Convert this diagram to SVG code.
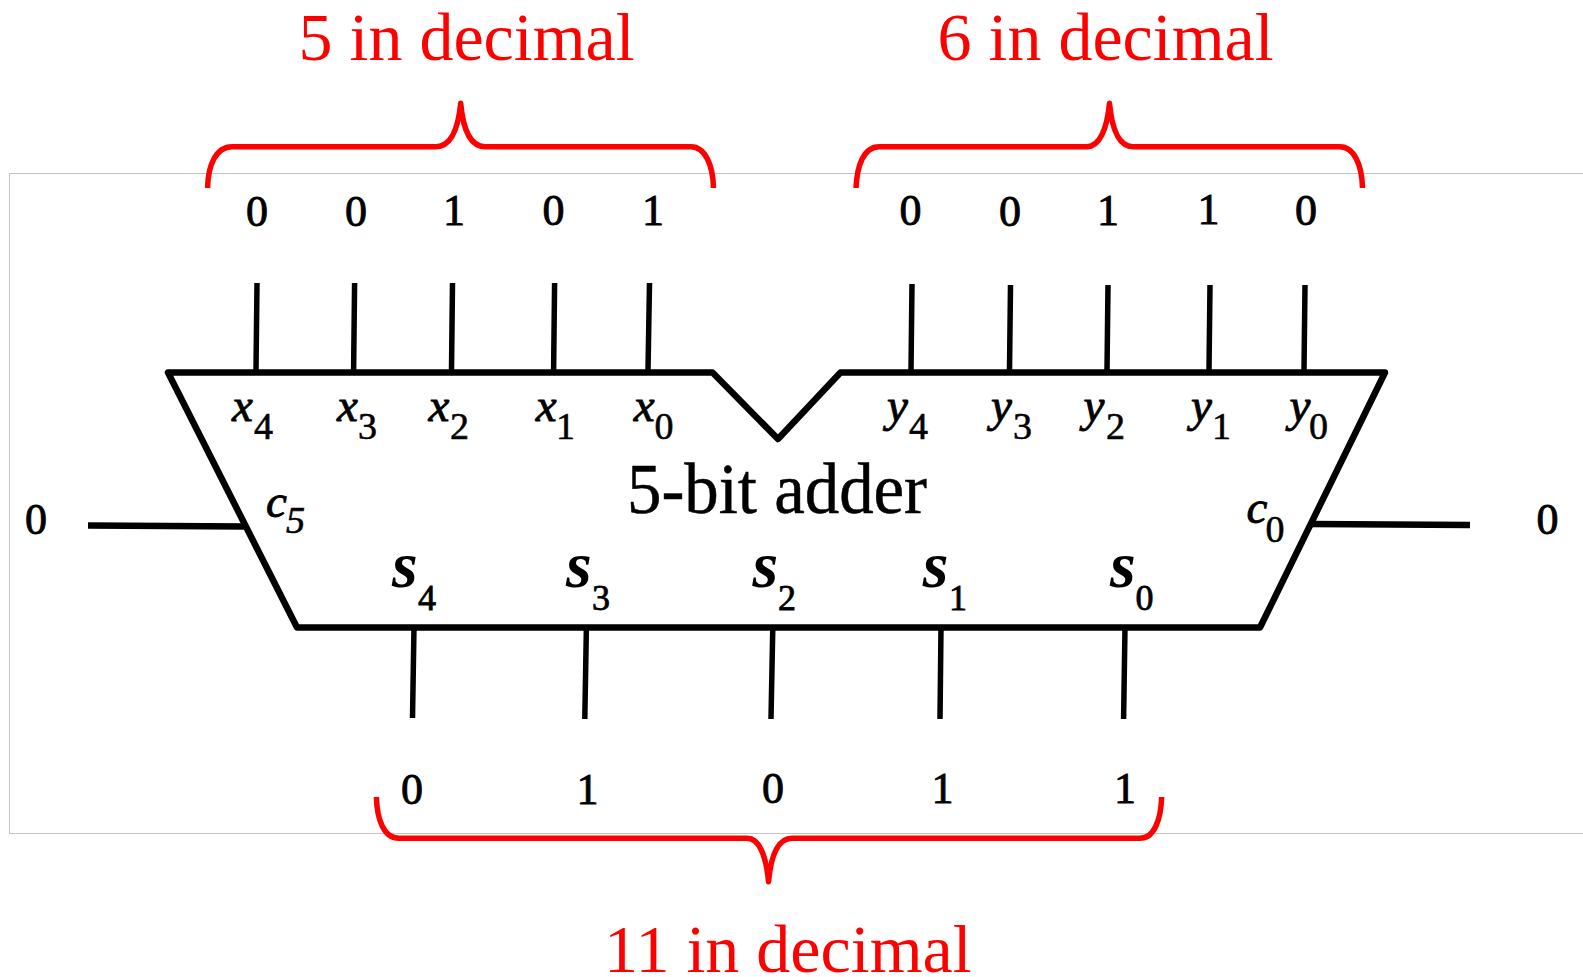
<svg xmlns="http://www.w3.org/2000/svg" width="1583" height="977" viewBox="0 0 1583 977">
<style>
text{font-family:"Liberation Serif","Times New Roman",serif;fill:#000}
.bit{font-size:44px;text-anchor:middle;stroke:#000;stroke-width:.9px}
.title{font-size:68px;fill:#f00}
.brace{fill:none;stroke:#f00;stroke-width:5.5px;stroke-linejoin:round}
.wire{stroke:#000;stroke-width:5.5px;fill:none}
.stub{stroke:#000;stroke-width:6.5px;fill:none}
.body{stroke:#000;stroke-width:6.5px;fill:none;stroke-linejoin:round}
.v{font-size:47px;font-style:italic;stroke:#000;stroke-width:.9px}
.sub{font-size:38px;font-style:normal;stroke:#000;stroke-width:.6px}
.s{font-size:66px;font-style:italic;font-weight:bold}
.ssub{font-size:36px;font-style:normal;font-weight:normal;stroke:#000;stroke-width:.8px}
</style>
<rect x="9.5" y="173.5" width="1600" height="660" fill="#fff" stroke="#c4c4c4" stroke-width="1"/>
<g id="connectors">
<path class="wire" d="M257 283L256 370M354.6 283L353.6 370M452.5 283L451.5 370M554.6 283L553.6 370M649.5 283L648 370"/>
<path class="wire" d="M912 284L911 370M1010.5 285L1009.5 370M1108 285L1107 370M1210 285L1209 370M1305 285L1304 370"/>
<path class="wire" d="M414 627L412.5 718M586.4 627L584.8 719M772.8 627L771 719M941 627L940 719M1125 627L1123.6 719"/>
<path class="stub" d="M88 525.5L245 526.5M1311 524L1470 525"/>
</g>
<g id="adder">
<path class="body" d="M168 372.5H712.5L778 439L840.5 372.5H1385L1260 627.5H297Z"/>
<text x="627" y="513" font-size="71" textLength="300" lengthAdjust="spacingAndGlyphs" stroke="#000" stroke-width=".5">5-bit adder</text>
</g>
<g id="x-inputs">
<text class="v" y="421"><tspan x="232">x</tspan><tspan class="sub" x="254" y="438.5">4</tspan></text>
<text class="v" y="421"><tspan x="337">x</tspan><tspan class="sub" x="358" y="438.5">3</tspan></text>
<text class="v" y="421"><tspan x="428.6">x</tspan><tspan class="sub" x="450" y="438.5">2</tspan></text>
<text class="v" y="421"><tspan x="535.7">x</tspan><tspan class="sub" x="556" y="438.5">1</tspan></text>
<text class="v" y="421"><tspan x="633.7">x</tspan><tspan class="sub" x="654.5" y="438.5">0</tspan></text>
</g>
<g id="y-inputs">
<text class="v" y="421"><tspan x="887">y</tspan><tspan class="sub" x="909" y="438.5">4</tspan></text>
<text class="v" y="421"><tspan x="991">y</tspan><tspan class="sub" x="1013" y="438.5">3</tspan></text>
<text class="v" y="421"><tspan x="1083.5">y</tspan><tspan class="sub" x="1106" y="438.5">2</tspan></text>
<text class="v" y="421"><tspan x="1191">y</tspan><tspan class="sub" x="1212" y="438.5">1</tspan></text>
<text class="v" y="421"><tspan x="1289.5">y</tspan><tspan class="sub" x="1309" y="438.5">0</tspan></text>
</g>
<g id="carries">
<text class="v" x="266" y="517">c<tspan class="sub" style="font-style:italic" x="286" y="533">5</tspan></text>
<text class="v" x="1246.5" y="523">c<tspan class="sub" x="1265.5" y="542">0</tspan></text>
</g>
<g id="sum-outputs">
<text class="s" y="587"><tspan x="392">s</tspan><tspan class="ssub" x="418" y="609.5">4</tspan></text>
<text class="s" y="587"><tspan x="566">s</tspan><tspan class="ssub" x="592" y="609.5">3</tspan></text>
<text class="s" y="587"><tspan x="752.4">s</tspan><tspan class="ssub" x="778" y="609.5">2</tspan></text>
<text class="s" y="587"><tspan x="922.8">s</tspan><tspan class="ssub" x="949" y="609.5">1</tspan></text>
<text class="s" y="587"><tspan x="1110">s</tspan><tspan class="ssub" x="1135.5" y="609.5">0</tspan></text>
</g>
<g id="x-bits">
<text class="bit" x="257" y="226">0</text><text class="bit" x="356" y="226">0</text><text class="bit" x="454" y="225">1</text><text class="bit" x="553.6" y="225">0</text><text class="bit" x="653" y="225">1</text>
</g>
<g id="y-bits">
<text class="bit" x="910.5" y="225">0</text><text class="bit" x="1010" y="226">0</text><text class="bit" x="1108" y="225">1</text><text class="bit" x="1208.5" y="224">1</text><text class="bit" x="1306" y="225">0</text>
</g>
<g id="carry-bits">
<text class="bit" x="36" y="533.5">0</text><text class="bit" x="1547.5" y="533.5">0</text>
</g>
<g id="sum-bits">
<text class="bit" x="412" y="804">0</text><text class="bit" x="587.5" y="804">1</text><text class="bit" x="773" y="803">0</text><text class="bit" x="942.6" y="803">1</text><text class="bit" x="1125" y="803">1</text>
</g>
<g id="brace-x">
<path class="brace" d="M207.6 188C208 165 216 146.7 232 146.7H436C450 146.7 458 130 460.7 103.3C463 130 471 146.7 485 146.7H691C705 146.7 713 165 713.5 188"/>
<text class="title" x="298.5" y="60">5 in decimal</text>
</g>
<g id="brace-y">
<path class="brace" d="M856 188C857 165 864 146.7 879 146.7H1087C1099 146.7 1107 130 1109.5 103.3C1112 130 1119 146.7 1133 146.7H1340C1354 146.7 1362 165 1362.5 188"/>
<text class="title" x="937.5" y="60">6 in decimal</text>
</g>
<g id="brace-s">
<path class="brace" d="M376.4 797C377 820 384 838.3 399 838.3H747C759 838.3 766 855 768.5 881.7C771 855 778 838.3 792 838.3H1140C1154 838.3 1161 820 1161.6 797"/>
<text class="title" x="604" y="972">11 in decimal</text>
</g>
</svg>
